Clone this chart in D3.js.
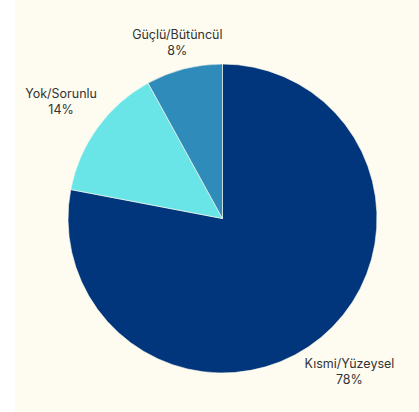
<!DOCTYPE html>
<html>
<head>
<meta charset="utf-8">
<script src="https://cdn.jsdelivr.net/npm/d3@7"></script>
<style>
  body { margin: 0; background: #ffffff; }
  svg { display: block; }
</style>
</head>
<body>
<div id="chart"></div>
<script>
// chart data
var labels = ["Kısmi/Yüzeysel", "Yok/Sorunlu", "Güçlü/Bütüncül"];
var values = [78, 14, 8];
var colors = ["#02367c", "#6ae5e7", "#2f8bba"];

var width = 419, height = 412;
var cx = 222.5, cy = 218.5, radius = 154.5;

var svg = d3.select("#chart").append("svg")
    .attr("width", width)
    .attr("height", height);

// cream panel
svg.append("rect")
    .attr("x", 15).attr("y", 0)
    .attr("width", width - 15).attr("height", height)
    .attr("fill", "#fefcf0");

var data = labels.map(function(d, i) { return {label: d, value: values[i], color: colors[i]}; });

var pie = d3.pie().sort(null).value(function(d) { return d.value; });
var arc = d3.arc().innerRadius(0).outerRadius(radius);

var g = svg.append("g")
    .attr("transform", "translate(" + cx + "," + cy + ")");

var arcs = pie(data);

g.selectAll("path")
    .data(arcs)
    .enter().append("path")
    .attr("d", arc)
    .attr("fill", function(d) { return d.data.color; })
    .attr("stroke", "#fefcf0")
    .attr("stroke-width", 0.6);

// outside labels: block centre sits on the slice's mid direction,
// pushed out by a gap plus the horizontal half-width of the text
var lineH = 16, pad = 16;
var labelG = g.selectAll(".lbl")
    .data(arcs)
    .enter().append("text")
    .attr("class", "lbl")
    .attr("font-family", "Inter, 'Noto Sans', sans-serif")
    .attr("font-size", "12.5px")
    .attr("fill", "#333333")
    .attr("text-anchor", "middle");

labelG.each(function(d) {
    var t = d3.select(this);
    t.append("tspan").attr("x", 0).attr("dy", 0).text(d.data.label);
    t.append("tspan").attr("x", 0).attr("dy", lineH).text(d.data.value + "%");
    var w = this.getBBox().width;
    var a = (d.startAngle + d.endAngle) / 2;
    var s = Math.sin(a), c = -Math.cos(a);
    var dist = radius + pad + Math.abs(s) * w / 2;
    t.attr("transform", "translate(" + (s * dist) + "," + (c * dist - 3.5) + ")");
});
</script>
</body>
</html>
